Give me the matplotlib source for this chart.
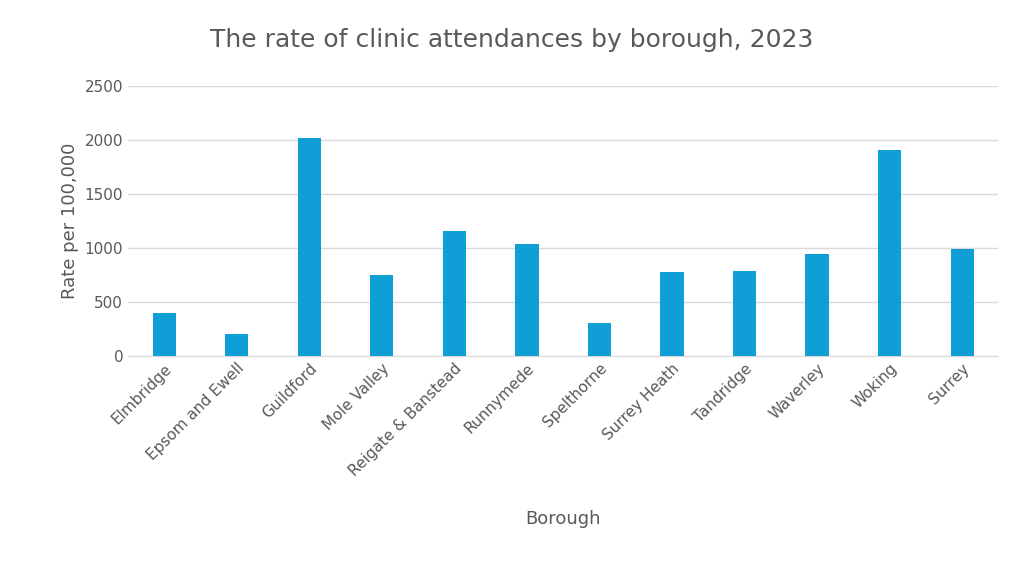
import matplotlib.pyplot as plt

boroughs = ["Elmbridge", "Epsom and Ewell", "Guildford", "Mole Valley",
            "Reigate & Banstead", "Runnymede", "Spelthorne", "Surrey Heath",
            "Tandridge", "Waverley", "Woking", "Surrey"]
rates = [400, 205, 2020, 750, 1160, 1035, 305, 778, 787, 944, 1907, 990]

plt.rcParams.update({"font.family": "DejaVu Sans", "text.color": "#595959",
                     "xtick.color": "#595959", "ytick.color": "#595959"})

fig = plt.figure(figsize=(10.24, 5.74), dpi=100)
ax = fig.add_axes([0.125, 0.38, 0.85, 0.47])
ax.bar(boroughs, rates, width=0.32, color="#0F9ED5", zorder=3)
ax.set_ylim(0, 2500)
ax.set_yticks(range(0, 2501, 500))
ax.set_xlim(-0.5, len(boroughs) - 0.5)
ax.grid(axis="y", color="#D9D9D9", linewidth=1, zorder=0)
for s in ["top", "right", "left"]:
    ax.spines[s].set_visible(False)
ax.spines["bottom"].set_color("#D9D9D9")
ax.tick_params(length=0, labelsize=11)
plt.setp(ax.get_xticklabels(), rotation=45, ha="right", rotation_mode="anchor")
ax.set_ylabel("Rate per 100,000", fontsize=13, color="#595959")
ax.set_xlabel("Borough", fontsize=13, color="#595959", labelpad=22)
fig.text(0.5, 0.93, "The rate of clinic attendances by borough, 2023",
         ha="center", va="center", fontsize=18, color="#595959")
fig.savefig("out.png", dpi=100)
